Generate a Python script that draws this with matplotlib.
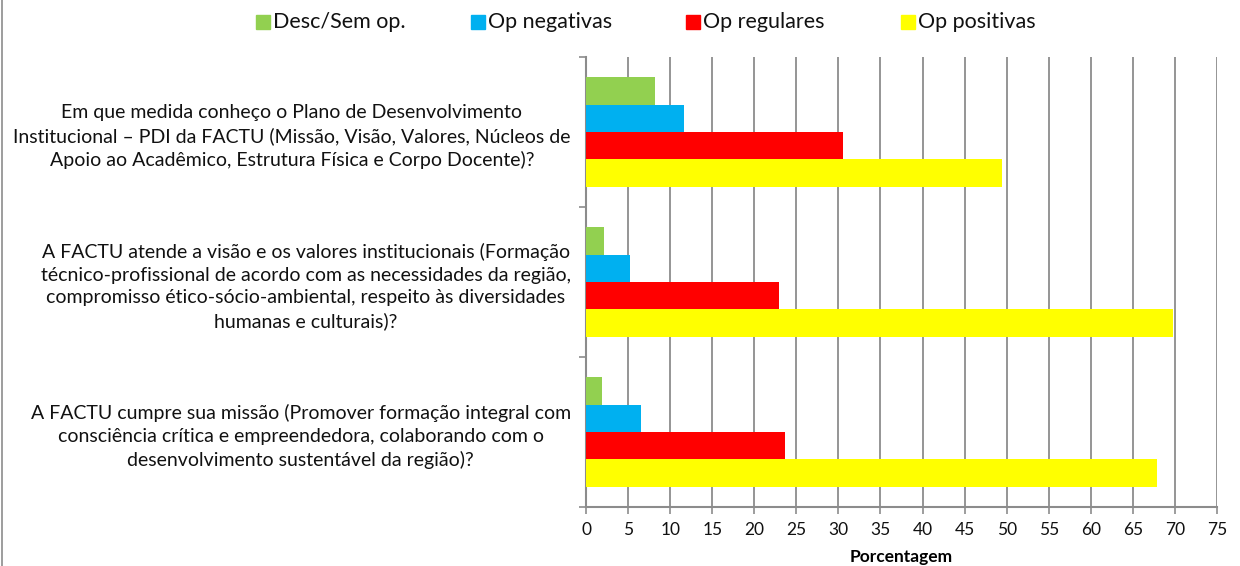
import matplotlib
matplotlib.use("Agg")
import matplotlib.pyplot as plt
from matplotlib.patches import Rectangle
from matplotlib.lines import Line2D
import numpy as np

plt.rcParams['font.family'] = ['Lato', 'DejaVu Sans']

categories = [
    "Em que medida conheço o Plano de Desenvolvimento\nInstitucional – PDI da FACTU (Missão, Visão, Valores, Núcleos de\nApoio ao Acadêmico, Estrutura Física e Corpo Docente)?",
    "A FACTU atende a visão e os valores institucionais (Formação\ntécnico-profissional de acordo com as necessidades da região,\ncompromisso ético-sócio-ambiental, respeito às diversidades\nhumanas e culturais)?",
    "A FACTU cumpre sua missão (Promover formação integral com\nconsciência crítica e empreendedora, colaborando com o\ndesenvolvimento sustentável da região)?",
]
series_names = ["Desc/Sem op.", "Op negativas", "Op regulares", "Op positivas"]
desc_sem_op = [8.2, 2.1, 1.9]
op_negativas = [11.7, 5.2, 6.5]
op_regulares = [30.6, 22.9, 23.7]
op_positivas = [49.4, 69.8, 67.9]
series_values = [desc_sem_op, op_negativas, op_regulares, op_positivas]
colors = ["#92D050", "#00B0F0", "#FF0000", "#FFFF00"]
x_ticks = list(range(0, 80, 5))

W, H = 1240, 566
fig = plt.figure(figsize=(W / 100, H / 100), dpi=100)
ax = fig.add_axes([586 / W, (H - 507) / H, (1217 - 586) / W, (507 - 57) / H])

ypos = np.arange(len(categories))
h = 0.1817
for k, (vals, c) in enumerate(zip(series_values, colors)):
    ax.barh(ypos + (k - 1.5) * h, vals, height=h, color=c, zorder=3)

ax.set_xlim(0, 75)
ax.set_ylim(2.5, -0.5)
ax.set_xticks(x_ticks)
ax.set_xticklabels([str(t) for t in x_ticks], fontsize=12.5, color="#111111")
ax.set_yticks(ypos)
ax.set_yticklabels(categories, fontsize=14, color="#111111", ma="center", linespacing=1.42)
ax.set_yticks([-0.5, 0.5, 1.5, 2.5], minor=True)
ax.tick_params(axis="y", which="major", length=0, pad=11)
ax.tick_params(axis="y", which="minor", length=5, color="#8c8c8c", width=1.2)
ax.tick_params(axis="x", length=5, color="#8c8c8c", width=1.2, pad=6)

ax.grid(axis="x", color="#8c8c8c", linewidth=1.3, zorder=0)
ax.grid(axis="y", visible=False)
for s in ["top", "right"]:
    ax.spines[s].set_visible(False)
for s in ["left", "bottom"]:
    ax.spines[s].set_color("#8c8c8c")
    ax.spines[s].set_linewidth(1.5)
ax.set_xlabel("Porcentagem", fontsize=12.5, fontweight="bold", labelpad=8)

# legend
for i, (name, c) in enumerate(zip(series_names, colors)):
    x0 = 256 + 215 * i
    fig.add_artist(Rectangle((x0 / W, (H - 29) / H), 14 / W, 14 / H, color=c, transform=fig.transFigure))
    fig.text((x0 + 17) / W, (H - 22) / H, name, fontsize=15.5, va="center", ha="left", color="#111111")

fig.add_artist(Line2D([2 / W, 2 / W], [0, 1], color="#8c8c8c", linewidth=1.2, transform=fig.transFigure))

fig.savefig("out.png", dpi=100)
